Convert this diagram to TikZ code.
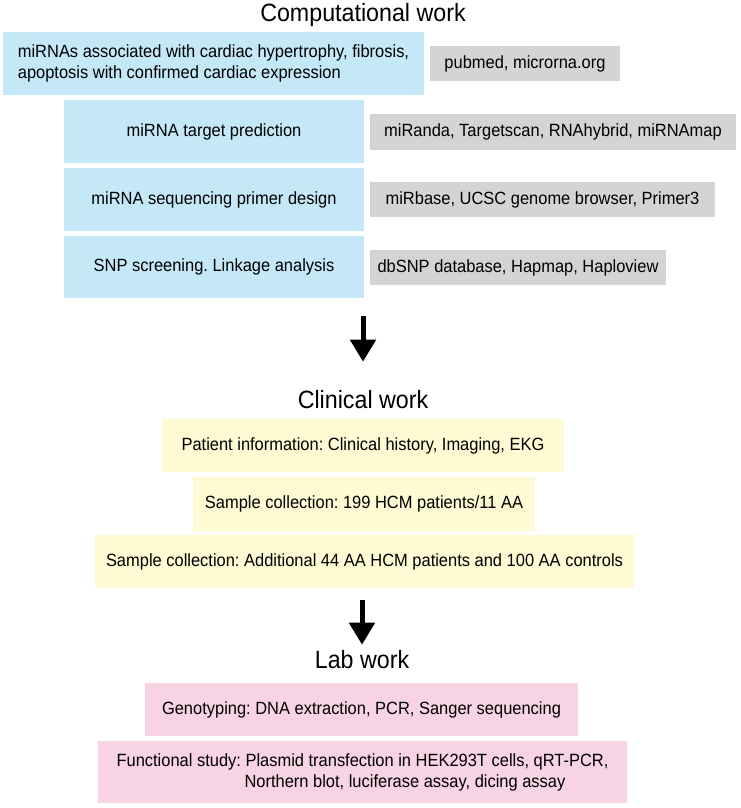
\documentclass[tikz,border=0pt]{standalone}
\usepackage{fontspec}
\setmainfont{Liberation Sans}[FakeStretch=0.93]
\usetikzlibrary{arrows.meta}
\frenchspacing

\definecolor{compblue}{RGB}{197,232,248}
\definecolor{toolgray}{RGB}{212,212,212}
\definecolor{clinyellow}{RGB}{254,250,212}
\definecolor{labpink}{RGB}{247,211,227}

\begin{document}
\begin{tikzpicture}[x=1pt,y=-1pt,
    title/.style={font=\fontsize{25}{30}\selectfont, inner sep=0pt, anchor=base},
    flow/.style={line width=5pt, -{Triangle[width=25pt,length=22pt]}}]

    % `stage' is the common look of every box.
    % `comp' and `tool' are the computational steps and their resources.
    % `clin' and `lab' are the clinical and lab steps.
    \tikzstyle{stage} = [inner sep=0pt, font=\fontsize{17.7}{21}\selectfont]
    \tikzstyle{comp} = [stage, fill=compblue, minimum width=300pt, minimum height=63pt]
    \tikzstyle{tool} = [stage, fill=toolgray, minimum height=35pt]
    \tikzstyle{clin} = [stage, fill=clinyellow, minimum height=53pt]
    \tikzstyle{lab} = [stage, fill=labpink, minimum height=53pt]
    %
    \useasboundingbox (0,0) rectangle (740,808);

    % Computational work.
    \node[title] (comptitle) at (363,22) {Computational work};
    \node[comp, minimum width=421pt, align=left] (mirnas) at (213.5,63.5)
        {miRNAs associated with cardiac hypertrophy, fibrosis,\\apoptosis with confirmed cardiac expression};
    \node[tool, minimum width=190pt] (mirnasrc) at (525,63.5) {pubmed, microrna.org};
    \node[comp] (target) at (214,131.5) {miRNA target prediction};
    \node[tool, minimum width=366pt, minimum height=36pt] (targetsrc) at (553,132)
        {miRanda, Targetscan, RNAhybrid, miRNAmap};
    \node[comp] (primer) at (214,199.5) {miRNA sequencing primer design};
    \node[tool, minimum width=345pt] (primersrc) at (542.5,199.5)
        {miRbase, UCSC genome browser, Primer3};
    \node[comp, minimum height=62pt] (snp) at (214,267) {SNP screening. Linkage analysis};
    \node[tool, minimum width=296pt] (snpsrc) at (518,267.5)
        {dbSNP database, Hapmap, Haploview};

    % Clinical work.
    \node[title] (clintitle) at (363,408) {Clinical work};
    \node[clin, minimum width=402pt] (patient) at (363,445.5)
        {Patient information: Clinical history, Imaging, EKG};
    \node[clin, minimum width=342pt, minimum height=54pt] (sample) at (364,504)
        {Sample collection: 199 HCM patients/11 AA};
    \node[clin, minimum width=539pt] (addsample) at (364.5,561.5)
        {Sample collection: Additional 44 AA HCM patients and 100 AA controls};

    % Lab work.
    \node[title] (labtitle) at (362,668) {Lab work};
    \node[lab, minimum width=433pt] (geno) at (361.5,709.5)
        {Genotyping: DNA extraction, PCR, Sanger sequencing};
    \node[lab, minimum width=529pt, minimum height=62pt, align=left] (func) at (362.5,772)
        {Functional study: Plasmid transfection in HEK293T cells, qRT-PCR,\\
         \hspace*{128pt}Northern blot, luciferase assay, dicing assay};

    % Draw arrows.
    \draw[flow, shorten <=18pt, shorten >=28pt] (snp.south -| clintitle.north) -- (clintitle.north);
    \draw[flow, shorten <=12pt, shorten >=5pt] (addsample.south -| labtitle.north) -- (labtitle.north);
    %
\end{tikzpicture}
\end{document}
